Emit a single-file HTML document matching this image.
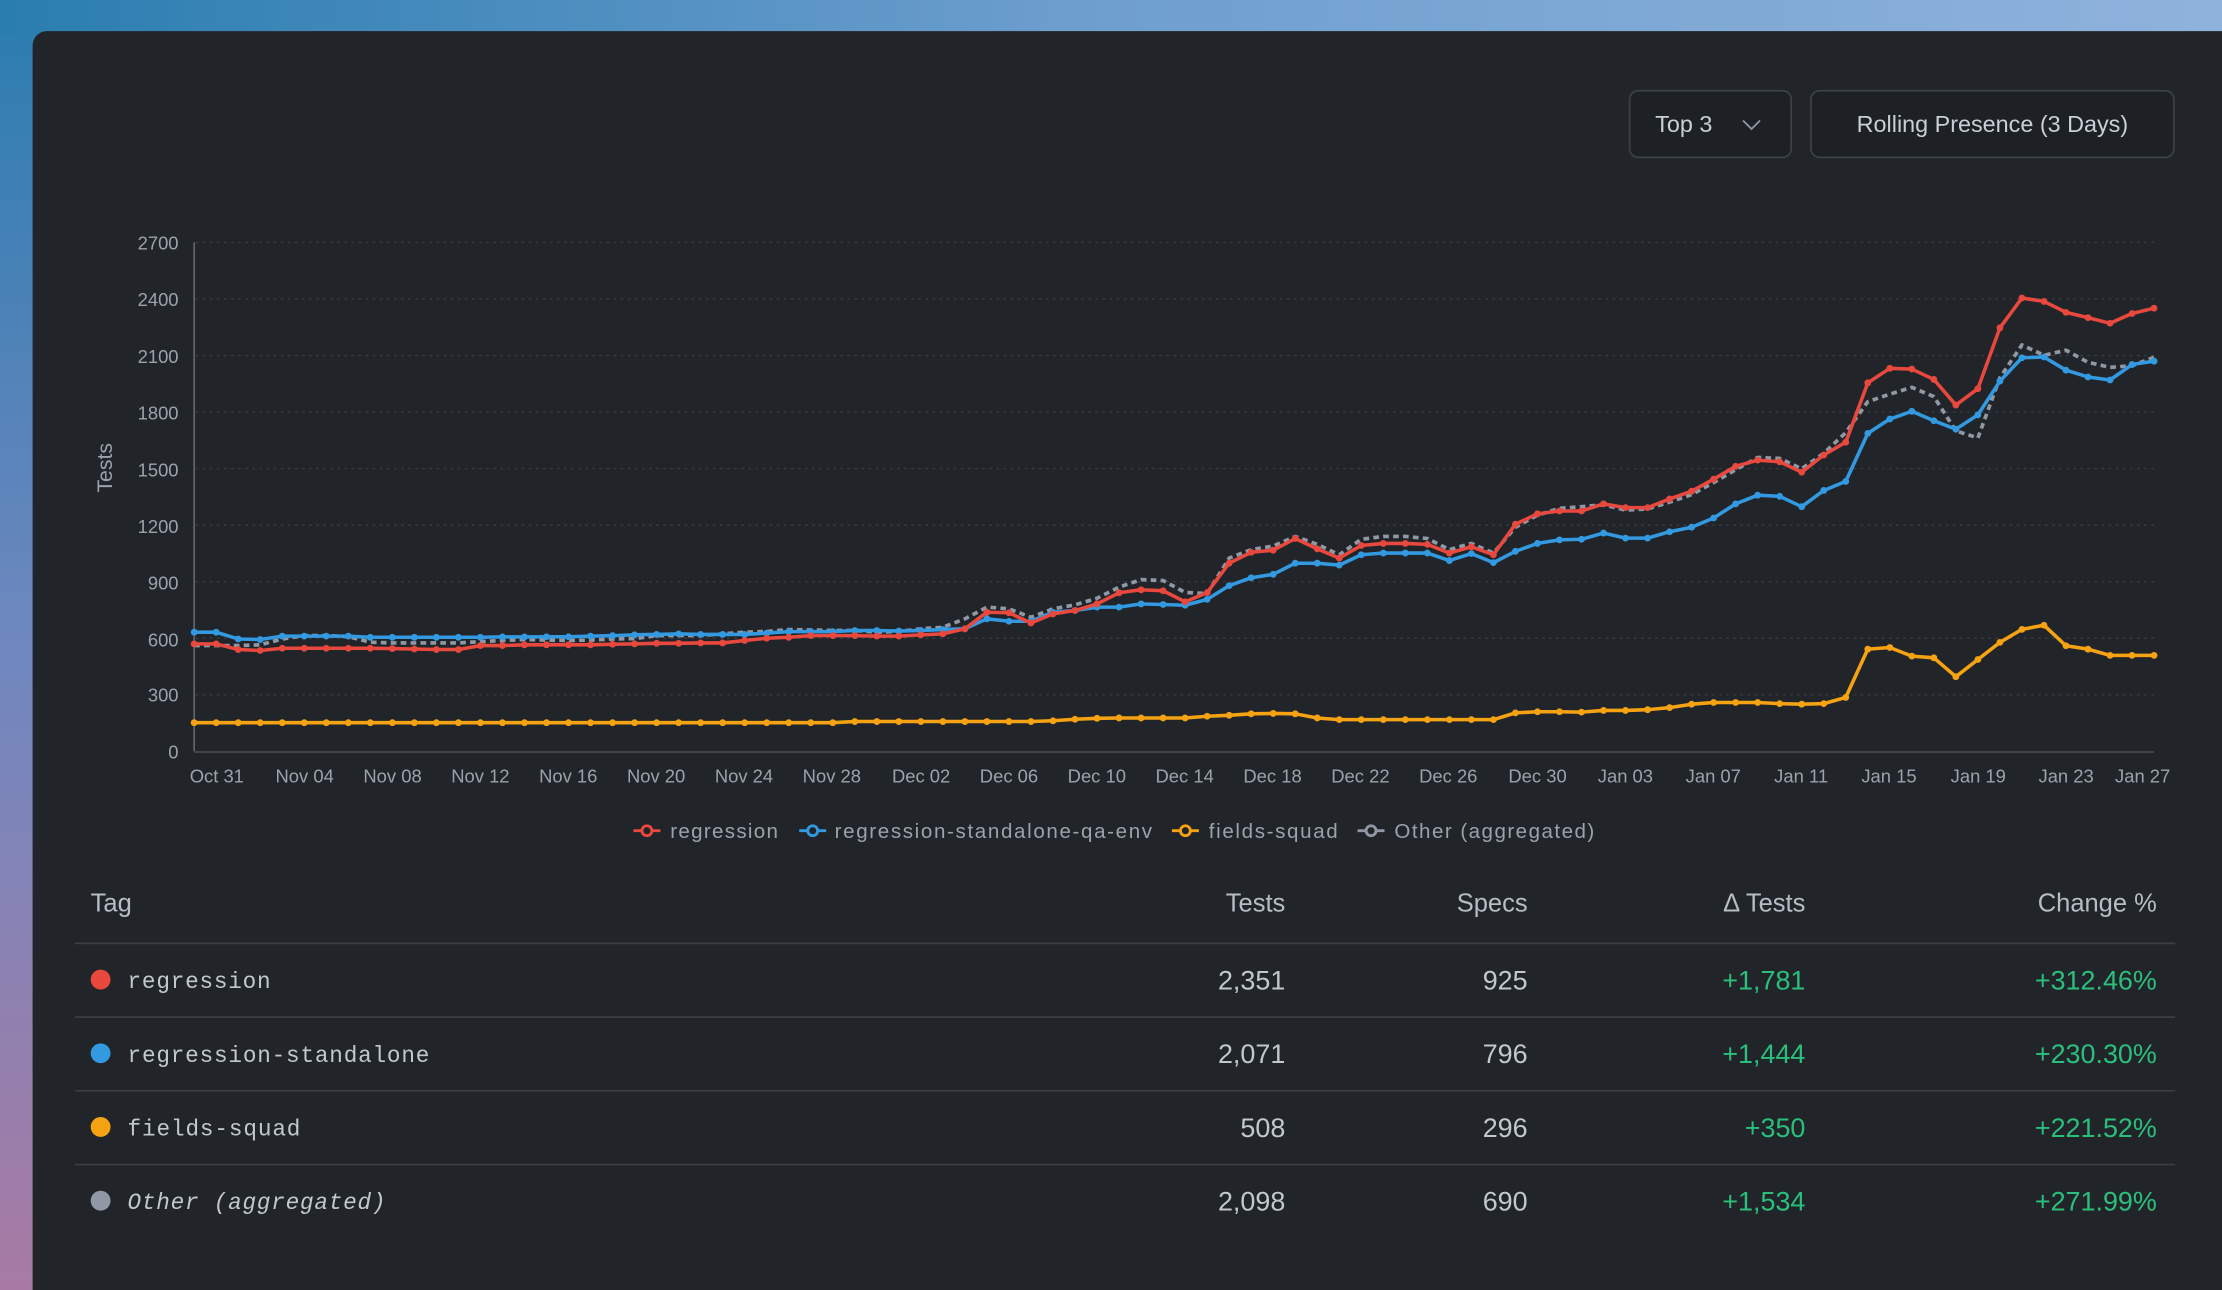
<!DOCTYPE html>
<html><head><meta charset="utf-8"><style>
html,body{margin:0;padding:0;width:2222px;height:1290px;overflow:hidden;background:#212529}
svg{display:block}
text{font-family:"Liberation Sans",sans-serif}
.mono{font-family:"Liberation Mono","DejaVu Sans Mono",monospace}
</style></head><body>
<svg id="s" width="2222" height="1290" viewBox="0 0 1568 910" preserveAspectRatio="none" xmlns="http://www.w3.org/2000/svg">
<defs>
<linearGradient id="gt" x1="0" y1="0" x2="1" y2="0"><stop offset="0" stop-color="#2a7db0"/><stop offset="0.5" stop-color="#6f9fcf"/><stop offset="1" stop-color="#8fb2dc"/></linearGradient>
<linearGradient id="gl" x1="0" y1="0" x2="0" y2="1"><stop offset="0" stop-color="#2a7db0"/><stop offset="0.5" stop-color="#6f88bf"/><stop offset="1" stop-color="#a87ba4"/></linearGradient>
</defs>
<rect x="0" y="0" width="1568" height="910" fill="url(#gl)"/>
<rect x="0" y="0" width="1568" height="24" fill="url(#gt)"/>
<rect x="23" y="22" width="1560" height="900" rx="10" fill="#212529"/>
<rect x="1150" y="64" width="114" height="47" rx="6" fill="#1d2125" stroke="#3b4149" stroke-width="1.2"/>
<text x="1168" y="93" font-size="16.5" fill="#c9cfd6">Top 3</text>
<path d="M1230 85 L1236 91 L1242 85" fill="none" stroke="#8f98a2" stroke-width="1.3"/>
<rect x="1278" y="64" width="256" height="47" rx="6" fill="#1d2125" stroke="#3b4149" stroke-width="1.2"/>
<text x="1406" y="93" font-size="16.5" fill="#c9cfd6" text-anchor="middle">Rolling Presence (3 Days)</text>
<g id="grid"></g>
<line x1="137" y1="171" x2="137" y2="530" stroke="#6b7078" stroke-width="1"/>
<line x1="137" y1="530.5" x2="1520" y2="530.5" stroke="#3e434c" stroke-width="1.5"/>
<g font-size="13" fill="#9aa3ad" text-anchor="end">
<text x="126" y="176">2700</text><text x="126" y="216">2400</text><text x="126" y="256">2100</text>
<text x="126" y="296">1800</text><text x="126" y="336">1500</text><text x="126" y="376">1200</text>
<text x="126" y="416">900</text><text x="126" y="456">600</text><text x="126" y="495">300</text><text x="126" y="535">0</text>
</g>
<text transform="translate(79,330) rotate(-90)" font-size="15" fill="#9aa3ad" text-anchor="middle">Tests</text>
<g font-size="13" fill="#9aa3ad" text-anchor="middle">
<text x="153" y="552">Oct 31</text><text x="215" y="552">Nov 04</text><text x="277" y="552">Nov 08</text>
<text x="339" y="552">Nov 12</text><text x="401" y="552">Nov 16</text><text x="463" y="552">Nov 20</text>
<text x="525" y="552">Nov 24</text><text x="587" y="552">Nov 28</text><text x="650" y="552">Dec 02</text>
<text x="712" y="552">Dec 06</text><text x="774" y="552">Dec 10</text><text x="836" y="552">Dec 14</text>
<text x="898" y="552">Dec 18</text><text x="960" y="552">Dec 22</text><text x="1022" y="552">Dec 26</text>
<text x="1085" y="552">Dec 30</text><text x="1147" y="552">Jan 03</text><text x="1209" y="552">Jan 07</text>
<text x="1271" y="552">Jan 11</text><text x="1333" y="552">Jan 15</text><text x="1396" y="552">Jan 19</text>
<text x="1458" y="552">Jan 23</text><text x="1512" y="552">Jan 27</text>
</g>
<g id="series"></g>
<g font-size="14.5" fill="#9aa3ad">
<line x1="447" y1="586" x2="466" y2="586" stroke="#e8483d" stroke-width="2"/><circle cx="456.5" cy="586" r="3.5" fill="#212529" stroke="#e8483d" stroke-width="2"/>
<text x="473" y="591" textLength="76">regression</text>
<line x1="564" y1="586" x2="583" y2="586" stroke="#3399e0" stroke-width="2"/><circle cx="573.5" cy="586" r="3.5" fill="#212529" stroke="#3399e0" stroke-width="2"/>
<text x="589" y="591" textLength="224">regression-standalone-qa-env</text>
<line x1="827" y1="586" x2="846" y2="586" stroke="#f5a312" stroke-width="2"/><circle cx="836.5" cy="586" r="3.5" fill="#212529" stroke="#f5a312" stroke-width="2"/>
<text x="853" y="591" textLength="91">fields-squad</text>
<line x1="958" y1="586" x2="977" y2="586" stroke="#8f98a4" stroke-width="2"/><circle cx="967.5" cy="586" r="3.5" fill="#212529" stroke="#8f98a4" stroke-width="2"/>
<text x="984" y="591" textLength="141">Other (aggregated)</text>
</g>
<g font-size="18" fill="#b6bdc5">
<text x="64" y="643">Tag</text>
<text x="907" y="643" text-anchor="end">Tests</text>
<text x="1078" y="643" text-anchor="end">Specs</text>
<text x="1274" y="643" text-anchor="end">Δ Tests</text>
<text x="1522" y="643" text-anchor="end">Change %</text>
</g>
<g stroke="#3a3f46" stroke-width="1.2">
<line x1="53" y1="665.5" x2="1535" y2="665.5"/><line x1="53" y1="717.5" x2="1535" y2="717.5"/>
<line x1="53" y1="769.5" x2="1535" y2="769.5"/><line x1="53" y1="821.5" x2="1535" y2="821.5"/>
</g>
<circle cx="71" cy="691" r="7" fill="#e8483d"/><circle cx="71" cy="743" r="7" fill="#3399e0"/>
<circle cx="71" cy="795" r="7" fill="#f5a312"/><circle cx="71" cy="847" r="7" fill="#8f98a4"/>
<g font-size="16" fill="#c2c8cf">
<text x="90" y="697" class="mono" textLength="101">regression</text>
<text x="90" y="749" class="mono" textLength="213">regression-standalone</text>
<text x="90" y="801" class="mono" textLength="122">fields-squad</text>
<text x="90" y="853" class="mono" font-style="italic" textLength="182">Other (aggregated)</text>
</g>
<g font-size="19" fill="#c2c8cf" text-anchor="end">
<text x="907" y="698">2,351</text><text x="1078" y="698">925</text>
<text x="907" y="750">2,071</text><text x="1078" y="750">796</text>
<text x="907" y="802">508</text><text x="1078" y="802">296</text>
<text x="907" y="854">2,098</text><text x="1078" y="854">690</text>
</g>
<g font-size="19" fill="#2bbf7c" text-anchor="end">
<text x="1274" y="698">+1,781</text><text x="1522" y="698">+312.46%</text>
<text x="1274" y="750">+1,444</text><text x="1522" y="750">+230.30%</text>
<text x="1274" y="802">+350</text><text x="1522" y="802">+221.52%</text>
<text x="1274" y="854">+1,534</text><text x="1522" y="854">+271.99%</text>
</g>
</svg>
<script>
var NS="http://www.w3.org/2000/svg";
function X(i){return 137+i*15.54}
function Y(v){return 530-v*0.13296}
var g=document.getElementById('grid');
for(var v=300;v<=2700;v+=300){var l=document.createElementNS(NS,'line');l.setAttribute('x1',138);l.setAttribute('x2',1520);l.setAttribute('y1',Y(v));l.setAttribute('y2',Y(v));l.setAttribute('stroke','#353a42');l.setAttribute('stroke-width','1');l.setAttribute('stroke-dasharray','2 3');g.appendChild(l);}
var red=[570,570,540,535,547,547,547,547,547,545,543,540,540,561,561,565,565,565,565,568,570,573,573,575,575,588,600,605,614,614,614,611,611,618,623,650,738,735,681,729,747,782,841,857,852,793,842,998,1056,1067,1129,1074,1025,1092,1103,1103,1098,1052,1085,1043,1205,1260,1275,1275,1313,1293,1293,1339,1380,1444,1512,1545,1536,1481,1572,1640,1955,2032,2028,1973,1837,1924,2247,2405,2387,2329,2301,2271,2323,2351];
var blue=[632,632,596,593,611,611,611,611,605,605,605,605,605,605,607,607,608,608,611,614,618,620,623,620,620,620,627,635,635,635,641,641,638,641,646,650,703,690,690,738,747,765,765,782,779,775,806,879,921,939,998,998,988,1043,1052,1052,1052,1012,1049,1001,1061,1103,1122,1125,1158,1131,1131,1165,1189,1238,1313,1359,1353,1298,1384,1432,1687,1763,1804,1754,1709,1785,1964,2088,2092,2022,1986,1970,2052,2070];
var grey=[561,561,561,565,596,614,614,609,579,575,575,575,575,582,588,593,590,588,590,596,598,614,614,614,623,632,636,646,644,641,641,632,636,650,658,703,765,756,711,756,777,812,871,911,906,843,837,1025,1070,1089,1140,1098,1043,1125,1140,1140,1129,1070,1103,1052,1189,1253,1289,1298,1308,1280,1286,1322,1362,1426,1494,1559,1554,1499,1581,1691,1855,1895,1931,1882,1700,1663,1982,2156,2101,2128,2064,2037,2046,2090];
var org=[];for(var i=0;i<44;i++){org.push(i<30?152:(i<39?158:[162,170,175,177,177][i-39]));}
org=org.concat([177,177,186,191,199,201,199,177,168,168,168,168,168,168,168,168,204,210,210,208,217,217,221,232,250,259,259,259,253,250,253,286,542,551,505,496,396,487,578,647,669,560,542,509,509,509]);
function path(d){var s='';for(var i=0;i<d.length;i++){s+=(i?'L':'M')+X(i).toFixed(2)+' '+Y(d[i]).toFixed(2)+' ';}return s;}
var S=document.getElementById('series');
function add(d,c,dash,markers){var p=document.createElementNS(NS,'path');p.setAttribute('d',path(d));p.setAttribute('fill','none');p.setAttribute('stroke',c);p.setAttribute('stroke-width',dash?'2.6':'2.5');p.setAttribute('stroke-linejoin','round');if(dash)p.setAttribute('stroke-dasharray','4 3');S.appendChild(p);
if(markers){for(var i=0;i<d.length;i++){var m=document.createElementNS(NS,'circle');m.setAttribute('cx',X(i));m.setAttribute('cy',Y(d[i]));m.setAttribute('r','2.4');m.setAttribute('fill',c);S.appendChild(m);}}}
add(org,'#f5a312',false,true);
add(grey,'#8f98a4',true,false);
add(blue,'#3399e0',false,true);
add(red,'#e8483d',false,true);
</script>
</body></html>
